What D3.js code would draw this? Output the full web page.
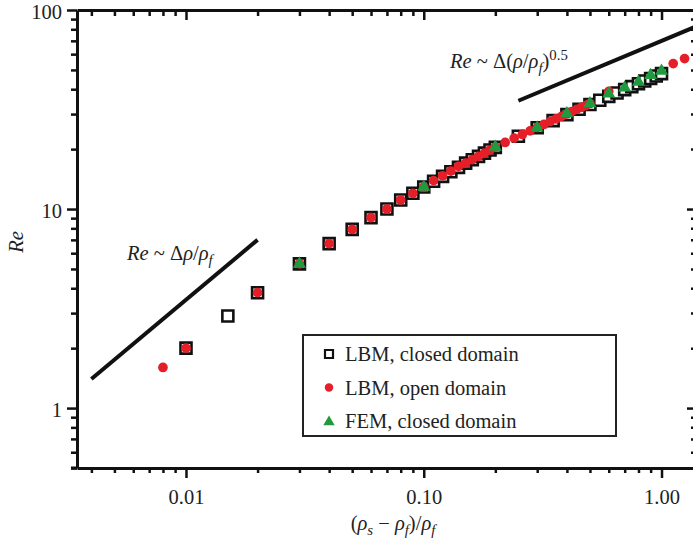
<!DOCTYPE html>
<html>
<head>
<meta charset="utf-8">
<script src="https://cdn.jsdelivr.net/npm/d3@7"></script>
<style>
  html, body { margin: 0; padding: 0; background: #fff; }
  svg { display: block; }
  svg text { font-family: "Liberation Serif", "Times New Roman", Times, "DejaVu Serif", serif !important; }
</style>
</head>
<body>
<svg id="chart" width="693" height="547"></svg>
<script>
// ---------------- data ----------------
const lbmClosedX = [0.01,0.015,0.02,0.03,0.04,0.05,0.06,0.07,0.08,0.09,0.10,0.11,0.12,0.13,0.14,0.15,0.16,0.17,0.18,0.19,0.20,0.25,0.30,0.35,0.40,0.45,0.50,0.55,0.60,0.65,0.70,0.75,0.80,0.85,0.90,0.95,1.00];
const lbmClosedRe = [2.0,2.9,3.8,5.3,6.7,7.9,9.05,10.0,11.1,12.0,12.9,13.8,14.6,15.4,16.2,17.0,17.7,18.4,19.1,19.8,20.4,23.2,25.6,27.8,29.8,31.7,33.5,35.2,36.8,38.3,39.8,41.2,42.6,44.0,45.3,46.6,47.9];

const lbmOpenX = [0.008,0.01,0.02,0.03,0.04,0.05,0.06,0.07,0.08,0.09,0.10,0.11,0.12,0.13,0.14,0.15,0.16,0.17,0.18,0.19,0.20,0.22,0.24,0.26,0.28,0.30,0.32,0.34,0.36,0.38,0.40,0.42,0.44,0.46,0.48,0.50,0.60,1.12,1.25];
const lbmOpenRe = [1.6,2.0,3.8,5.3,6.7,7.9,9.05,10.0,11.1,12.0,12.9,13.9,14.7,15.5,16.4,17.0,17.7,18.4,19.1,19.8,20.5,21.6,22.7,23.7,24.7,25.7,26.6,27.5,28.4,29.2,30.1,30.9,31.7,32.4,33.1,33.9,39.0,53.8,57.0];

const femX = [0.03,0.10,0.20,0.30,0.40,0.50,0.60,0.70,0.80,0.90,1.00];
const femRe = [5.3,12.9,20.5,25.6,30.2,33.9,38.0,40.7,43.5,47.0,49.4];

const slope1X = [0.004, 0.02];
const slope1Re = [1.4, 7.0];
const slope2X = [0.25, 1.41];
const slope2Re = [35, 83];

const xMajor = [0.01, 0.1, 1];
const xMajorLabels = ["0.01", "0.10", "1.00"];
const xMinor = [0.004,0.005,0.006,0.007,0.008,0.009,0.02,0.03,0.04,0.05,0.06,0.07,0.08,0.09,0.2,0.3,0.4,0.5,0.6,0.7,0.8,0.9];
const yMajor = [1, 10, 100];
const yMajorLabels = ["1", "10", "100"];
const yMinor = [0.5,0.6,0.7,0.8,0.9,2,3,4,5,6,7,8,9,20,30,40,50,60,70,80,90];

const legendLabels = ["LBM, closed domain", "LBM, open domain", "FEM, closed domain"];

const RED = "#e51f28";
const GREEN = "#1f9a3e";
const INK = "#111";
const SERIF = "'Liberation Serif', 'Times New Roman', Times, 'DejaVu Serif', serif";

// ---------------- scales ----------------
const svg = d3.select("#chart");
const pLeft = 77, pRight = 697, pTop = 10, pBottom = 468;
const x = d3.scaleLog().domain([0.00348, 1.41]).range([pLeft, pRight]);
const y = d3.scaleLog().domain([0.5, 100]).range([pBottom, pTop]);

const FONT = 20.5;

// ---------------- axes ----------------
function styleAxis(g, sw) {
  g.attr("font-family", SERIF);
  g.selectAll(".domain").attr("stroke", INK).attr("stroke-width", 3);
  g.selectAll(".tick line").attr("stroke", INK).attr("stroke-width", sw);
  g.selectAll(".tick text").attr("fill", "#222").style("font-size", FONT + "px")
    .style("font-family", SERIF);
}

// bottom
svg.append("g").attr("transform", `translate(0,${pBottom})`)
  .call(d3.axisBottom(x).tickValues(xMinor).tickSize(5).tickSizeOuter(0).tickFormat(""))
  .call(g => { styleAxis(g, 2.5); g.select(".domain").remove(); });
svg.append("g").attr("transform", `translate(0,${pBottom})`)
  .call(d3.axisBottom(x).tickValues(xMajor).tickSize(10).tickSizeOuter(0).tickPadding(11)
    .tickFormat((d, i) => xMajorLabels[i]))
  .call(g => styleAxis(g, 2.5));
// top
svg.append("g").attr("transform", `translate(0,${pTop})`)
  .call(d3.axisTop(x).tickValues(xMinor).tickSize(-6).tickSizeOuter(0).tickFormat(""))
  .call(g => { styleAxis(g, 2.5); g.select(".domain").remove(); });
svg.append("g").attr("transform", `translate(0,${pTop})`)
  .call(d3.axisTop(x).tickValues(xMajor).tickSize(-10).tickSizeOuter(0).tickFormat(""))
  .call(g => styleAxis(g, 2.5));
// left
svg.append("g").attr("transform", `translate(${pLeft},0)`)
  .call(d3.axisLeft(y).tickValues(yMinor).tickSize(6).tickSizeOuter(0).tickFormat(""))
  .call(g => { styleAxis(g, 2.5); g.select(".domain").remove(); });
svg.append("g").attr("transform", `translate(${pLeft},0)`)
  .call(d3.axisLeft(y).tickValues(yMajor).tickSize(10).tickSizeOuter(0).tickPadding(5)
    .tickFormat((d, i) => yMajorLabels[i]))
  .call(g => { styleAxis(g, 2.5); g.selectAll(".tick text").attr("dy", "0.42em"); });
// right
svg.append("g").attr("transform", `translate(${pRight},0)`)
  .call(d3.axisRight(y).tickValues(yMinor).tickSize(-6).tickSizeOuter(0).tickFormat(""))
  .call(g => { styleAxis(g, 2.5); g.select(".domain").remove(); });
svg.append("g").attr("transform", `translate(${pRight},0)`)
  .call(d3.axisRight(y).tickValues(yMajor).tickSize(-10).tickSizeOuter(0).tickFormat(""))
  .call(g => styleAxis(g, 2.5));
svg.append("line").attr("x1", pLeft - 6).attr("x2", pLeft).attr("y1", pBottom).attr("y2", pBottom)
  .attr("stroke", INK).attr("stroke-width", 3);

// ---------------- rich text helper ----------------
function rich(g, parts, size) {
  const t = g.append("text").style("font-size", size + "px").style("font-family", SERIF).attr("fill", "#222");
  let shift = 0;
  parts.forEach(p => {
    const target = p.sub ? 5 : p.sup ? -8 : 0;
    const s = t.append("tspan").text(p.t).attr("dy", target - shift);
    shift = target;
    if (p.i) s.style("font-style", "italic");
    if (p.sub || p.sup) s.style("font-size", (size * 0.72) + "px");
  });
  return t;
}

// ---------------- slope lines ----------------
svg.append("clipPath").attr("id", "plotclip").append("rect")
  .attr("x", pLeft).attr("y", pTop).attr("width", pRight - pLeft).attr("height", pBottom - pTop);
const line = d3.line().x(d => x(d[0])).y(d => y(d[1]));
const plot = svg.append("g").attr("clip-path", "url(#plotclip)");
plot.append("path").datum(slope1X.map((v, i) => [v, slope1Re[i]]))
  .attr("d", line).attr("fill", "none").attr("stroke", INK).attr("stroke-width", 4);
plot.append("path").datum(slope2X.map((v, i) => [v, slope2Re[i]]))
  .attr("d", line).attr("fill", "none").attr("stroke", INK).attr("stroke-width", 4);

// ---------------- markers ----------------
const sq = d3.symbol().type(d3.symbolSquare).size(121);
const ci = d3.symbol().type(d3.symbolCircle).size(74);
const tri = d3.symbol().type(d3.symbolTriangle).size(74);

plot.append("g").selectAll("path").data(lbmClosedX.map((v, i) => [v, lbmClosedRe[i]]))
  .join("path").attr("d", sq)
  .attr("transform", d => `translate(${x(d[0])},${y(d[1])})`)
  .attr("fill", "#fff").attr("stroke", INK).attr("stroke-width", 2.6);
plot.append("g").selectAll("path").data(lbmOpenX.map((v, i) => [v, lbmOpenRe[i]]))
  .join("path").attr("d", ci)
  .attr("transform", d => `translate(${x(d[0])},${y(d[1])})`)
  .attr("fill", RED);
plot.append("g").selectAll("path").data(femX.map((v, i) => [v, femRe[i]]))
  .join("path").attr("d", tri)
  .attr("transform", d => `translate(${x(d[0])},${y(d[1])})`)
  .attr("fill", GREEN);

// ---------------- annotations ----------------
const a1 = svg.append("g").attr("transform", "translate(127,260)");
rich(a1, [{t: "Re", i: true}, {t: " ~ Δ"}, {t: "ρ", i: true}, {t: "/"}, {t: "ρ", i: true}, {t: "f", i: true, sub: true}], FONT);
const a2 = svg.append("g").attr("transform", "translate(450,68)");
rich(a2, [{t: "Re", i: true}, {t: " ~ Δ("}, {t: "ρ", i: true}, {t: "/"}, {t: "ρ", i: true}, {t: "f", i: true, sub: true}, {t: ")"}, {t: "0.5", sup: true}], FONT);

// axis titles
const xt = svg.append("g").attr("transform", "translate(393,530)");
rich(xt, [{t: "("}, {t: "ρ", i: true}, {t: "s", i: true, sub: true}, {t: " − "}, {t: "ρ", i: true}, {t: "f", i: true, sub: true}, {t: ")/"}, {t: "ρ", i: true}, {t: "f", i: true, sub: true}], FONT)
  .attr("text-anchor", "middle");
svg.append("text").attr("transform", "translate(23,242) rotate(-90)")
  .attr("text-anchor", "middle").style("font-size", FONT + "px").style("font-style", "italic")
  .style("font-family", SERIF).attr("fill", "#222").text("Re");

// ---------------- legend ----------------
const lg = svg.append("g");
lg.append("rect").attr("x", 303).attr("y", 335).attr("width", 313).attr("height", 101)
  .attr("fill", "#fff").attr("stroke", "#222").attr("stroke-width", 2);
const legendSymbols = [
  {d: d3.symbol().type(d3.symbolSquare).size(64)(), fill: "#fff", stroke: INK, sw: 2.2},
  {d: d3.symbol().type(d3.symbolCircle).size(56)(), fill: RED, stroke: "none", sw: 0},
  {d: d3.symbol().type(d3.symbolTriangle).size(56)(), fill: GREEN, stroke: "none", sw: 0}
];
legendLabels.forEach((lab, i) => {
  const cy = 354 + i * 33.5;
  lg.append("path").attr("d", legendSymbols[i].d)
    .attr("transform", `translate(329,${cy + (i === 2 ? 1 : 0)})`)
    .attr("fill", legendSymbols[i].fill).attr("stroke", legendSymbols[i].stroke)
    .attr("stroke-width", legendSymbols[i].sw);
  lg.append("text").attr("x", 345).attr("y", cy + 7).style("font-size", FONT + "px")
    .style("font-family", SERIF).attr("fill", "#222").text(lab);
});
</script>
</body>
</html>
